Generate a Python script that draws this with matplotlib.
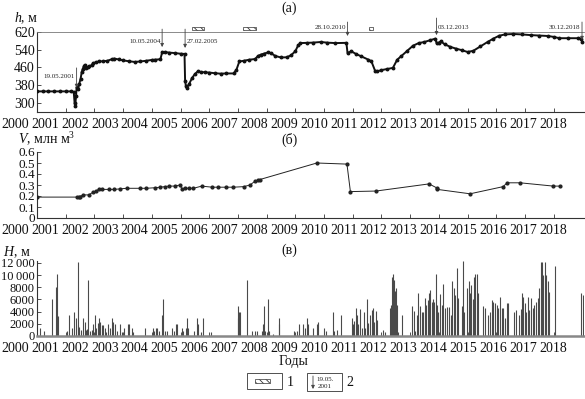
import matplotlib
matplotlib.use('Agg')
import matplotlib.pyplot as plt
from matplotlib.patches import Rectangle

plt.rcParams['font.family'] = ['Liberation Serif', 'DejaVu Serif']
plt.rcParams['mathtext.fontset'] = 'custom'
plt.rcParams['mathtext.rm'] = 'Liberation Serif'
plt.rcParams['mathtext.it'] = 'Liberation Serif:italic'
plt.rcParams['hatch.linewidth'] = 0.6

# ---------------- data ----------------
years = list(range(2000, 2019))
year_labels = [str(y) for y in years]

h_t = [2000.0, 2000.2, 2000.4, 2000.6, 2000.8, 2001.0, 2001.2, 2001.28, 2001.31, 2001.33,
       2001.36, 2001.38, 2001.42, 2001.47, 2001.52, 2001.56, 2001.6, 2001.64, 2001.67, 2001.72,
       2001.76, 2001.82, 2001.9, 2001.96, 2002.05, 2002.15, 2002.3, 2002.45, 2002.6, 2002.7,
       2002.85, 2003.0, 2003.2, 2003.4, 2003.6, 2003.8, 2004.0, 2004.1, 2004.3, 2004.36,
       2004.45, 2004.6, 2004.8, 2005.0, 2005.14, 2005.16, 2005.19, 2005.22, 2005.3, 2005.4,
       2005.5, 2005.6, 2005.7, 2005.85, 2006.0, 2006.2, 2006.4, 2006.6, 2006.85, 2006.95,
       2007.05, 2007.2, 2007.4, 2007.6, 2007.7, 2007.8, 2007.9, 2008.05, 2008.15, 2008.3,
       2008.5, 2008.7, 2008.85, 2009.0, 2009.1, 2009.18, 2009.4, 2009.6, 2009.9, 2010.1,
       2010.4, 2010.78, 2010.82, 2010.95, 2011.1, 2011.3, 2011.55, 2011.65, 2011.78, 2011.85,
       2012.0, 2012.2, 2012.4, 2012.55, 2012.7, 2012.9, 2013.1, 2013.3, 2013.5, 2013.7,
       2013.88, 2013.92, 2014.0, 2014.07, 2014.2, 2014.4, 2014.6, 2014.8, 2015.0, 2015.2,
       2015.45, 2015.7, 2015.9, 2016.1, 2016.3, 2016.6, 2016.9, 2017.2, 2017.5, 2017.8,
       2018.0, 2018.2, 2018.5, 2018.85, 2018.97, 2019.0]
h_v = [352, 352, 352, 352, 352, 352, 352, 350, 300, 285,
       330, 370, 362, 385, 410, 440, 455, 468, 472, 458,
       462, 465, 470, 480, 483, 487, 488, 490, 497, 500,
       496, 492, 488, 485, 487, 490, 494, 495, 497, 528,
       530, 527, 525, 522, 521, 400, 375, 368, 385, 412,
       430, 442, 440, 438, 437, 434, 432, 433, 433, 450,
       487, 490, 495, 498, 512, 518, 522, 528, 525, 512,
       505, 506, 515, 533, 560, 570, 571, 572, 575, 572,
       570, 571, 525, 533, 522, 510, 495, 488, 445, 442,
       448, 453, 458, 495, 512, 535, 558, 570, 575, 583,
       590, 570, 572, 578, 565, 553, 545, 538, 530, 535,
       555, 575, 590, 603, 609, 611, 609, 606, 604, 602,
       598, 592, 592, 592, 590, 575]

V_t = [2000.0, 2001.38, 2001.45, 2001.5, 2001.6, 2001.8, 2001.96, 2002.05, 2002.15, 2002.25,
       2002.5, 2002.7, 2002.9, 2003.12, 2003.6, 2003.8, 2004.1, 2004.3, 2004.45, 2004.6,
       2004.8, 2004.98, 2005.06, 2005.15, 2005.3, 2005.45, 2005.74, 2006.1, 2006.3, 2006.6,
       2006.84, 2007.2, 2007.42, 2007.6, 2007.7, 2007.77, 2009.75, 2010.8, 2010.92, 2011.81,
       2013.66, 2013.92, 2013.95, 2015.09, 2016.24, 2016.38, 2016.83, 2017.99, 2018.23]
V_v = [0.19, 0.19, 0.19, 0.195, 0.21, 0.21, 0.235, 0.245, 0.26, 0.26,
       0.26, 0.26, 0.265, 0.27, 0.27, 0.27, 0.275, 0.28, 0.285, 0.29,
       0.29, 0.30, 0.26, 0.27, 0.27, 0.27, 0.29, 0.28, 0.28, 0.28,
       0.28, 0.285, 0.30, 0.335, 0.345, 0.35, 0.50, 0.49, 0.24, 0.245,
       0.31, 0.275, 0.26, 0.22, 0.285, 0.32, 0.32, 0.29, 0.29]

H_t = [2000.10, 2000.24, 2000.53, 2000.67, 2000.69, 2000.74, 2001.06, 2001.13, 2001.22, 2001.30,
       2001.37, 2001.42, 2001.43, 2001.48, 2001.53, 2001.59, 2001.67, 2001.71, 2001.74, 2001.77,
       2001.85, 2001.90, 2001.96, 2002.02, 2002.07, 2002.11, 2002.16, 2002.21, 2002.25, 2002.31,
       2002.37, 2002.40, 2002.46, 2002.54, 2002.60, 2002.66, 2002.72, 2002.78, 2002.89, 2002.97,
       2003.04, 2003.16, 2003.22, 2003.32, 2003.36, 2003.76, 2004.05, 2004.07, 2004.13, 2004.18,
       2004.25, 2004.34, 2004.40, 2004.46, 2004.54, 2004.71, 2004.77, 2004.84, 2004.87, 2005.04,
       2005.08, 2005.18, 2005.21, 2005.26, 2005.48, 2005.56, 2005.60, 2005.70, 2005.77, 2006.05,
       2006.99, 2007.01, 2007.05, 2007.08, 2007.31, 2007.49, 2007.58, 2007.68, 2007.83, 2007.86,
       2007.91, 2007.94, 2008.04, 2008.07, 2008.23, 2008.42, 2008.44, 2008.97, 2009.06, 2009.12,
       2009.28, 2009.33, 2009.40, 2009.45, 2009.63, 2009.74, 2009.80, 2010.01, 2010.06, 2010.32,
       2010.36, 2010.44, 2010.58, 2010.96, 2011.01, 2011.06, 2011.10, 2011.15, 2011.20, 2011.25,
       2011.31, 2011.38, 2011.43, 2011.49, 2011.54, 2011.61, 2011.66, 2011.71, 2011.75, 2011.80,
       2011.85, 2012.04, 2012.13, 2012.30, 2012.33, 2012.38, 2012.41, 2012.45, 2012.48, 2012.52,
       2012.55, 2012.59, 2012.73, 2013.08, 2013.12, 2013.17, 2013.25, 2013.29, 2013.34, 2013.40,
       2013.46, 2013.52, 2013.56, 2013.61, 2013.66, 2013.70, 2013.75, 2013.80, 2013.84, 2013.89,
       2013.94, 2013.98, 2014.03, 2014.10, 2014.14, 2014.22, 2014.28, 2014.36, 2014.41, 2014.47,
       2014.53, 2014.58, 2014.62, 2014.67, 2014.80, 2014.83, 2014.88, 2014.99, 2015.04, 2015.09,
       2015.13, 2015.18, 2015.23, 2015.27, 2015.32, 2015.37, 2015.55, 2015.62, 2015.73, 2015.78,
       2015.84, 2015.90, 2015.96, 2016.02, 2016.07, 2016.13, 2016.19, 2016.24, 2016.30, 2016.37,
       2016.42, 2016.62, 2016.69, 2016.78, 2016.85, 2016.90, 2016.94, 2017.00, 2017.03, 2017.10,
       2017.15, 2017.21, 2017.27, 2017.32, 2017.38, 2017.44, 2017.49, 2017.55, 2017.60, 2017.64,
       2017.69, 2017.74, 2017.80, 2017.85, 2018.04, 2018.94, 2019.01]
H_v = [1370, 820, 6080, 8100, 10140, 3340, 820, 3450, 1370, 3890,
       2900, 12200, 1800, 1530, 990, 2900, 2360, 990, 1150, 9200,
       820, 990, 1920, 3450, 1260, 2080, 2900, 2360, 1810, 1810,
       1260, 710, 1920, 1370, 2900, 2360, 1920, 820, 1920, 710,
       1370, 1920, 1920, 1370, 600, 1370, 1370, 820, 1370, 1370,
       820, 3450, 6030, 820, 820, 1370, 820, 1920, 1920, 1370,
       820, 1370, 2900, 1370, 820, 2900, 1920, 600, 2900, 710,
       2900, 4990, 4000, 4000, 9200, 820, 820, 820, 820, 1920,
       4990, 820, 6080, 820, 380, 1920, 2900, 820, 820, 1920,
       1920, 1370, 2900, 1920, 1370, 1920, 2360, 1370, 820, 4000,
       820, 990, 3450, 2900, 1920, 2470, 4550, 3450, 1920, 4440,
       1370, 3890, 1260, 6080, 2080, 3450, 4270, 4550, 2360, 4110,
       2630, 990, 600, 4550, 5100, 9750, 10140, 9200, 7400, 7840,
       5100, 710, 3450, 4990, 4110, 820, 3450, 7010, 4990, 3890,
       3890, 6190, 5100, 5920, 7010, 7560, 5640, 6080, 5640, 10140,
       5100, 4000, 6850, 5100, 8490, 4550, 4820, 4820, 3450, 9040,
       7840, 6740, 11120, 6190, 4990, 12220, 4000, 7950, 9040, 7010,
       8380, 6080, 9750, 10140, 10140, 7010, 4990, 4550, 3450, 4000,
       5920, 5640, 5370, 5100, 4550, 6470, 4660, 4550, 2900, 5370,
       5370, 4000, 4270, 3450, 4440, 7010, 6470, 5370, 4000, 6470,
       4270, 6190, 4550, 5100, 5640, 6190, 7840, 12110, 12110, 10030,
       12110, 10030, 9040, 7290, 11560, 7010, 6740]

event_labels = ['19.05.2001', '10.05.2004', '27.02.2005', '28.10.2010', '03.12.2013', '30.12.2018']
event_t = [2001.38, 2004.36, 2005.16, 2010.82, 2013.92, 2018.99]
hatch_start = [2005.40, 2007.18, 2011.57]
hatch_end = [2005.82, 2007.63, 2011.71]

h_ticks = [300, 380, 460, 540, 620]
h_ticklabels = ['300', '380', '460', '540', '620']
V_ticks = [0, 0.1, 0.2, 0.3, 0.4, 0.5, 0.6]
V_ticklabels = ['0', '0.1', '0.2', '0.3', '0.4', '0.5', '0.6']
H_ticks = [0, 2000, 4000, 6000, 8000, 10000, 12000]
H_ticklabels = ['0', '2000', '4000', '6000', '8000', '10\u2009000', '12\u2009000']

# ---------------- layout ----------------
W, Hpx = 585, 399
fig = plt.figure(figsize=(W / 100, Hpx / 100), dpi=100)


def px_axes(x0, ytop, x1, ybot):
    return fig.add_axes([x0 / W, 1 - ybot / Hpx, (x1 - x0) / W, (ybot - ytop) / Hpx])


XMAX = 2000 + (584 - 37) / 28.7
ax1 = px_axes(37, 32, 584, 112)
ax2 = px_axes(37, 152, 584, 218)
ax3 = px_axes(37, 261, 584, 336)

TXT = '#111111'
for ax in (ax1, ax2, ax3):
    ax.set_xlim(2000, XMAX)
    ax.spines['right'].set_visible(False)
    ax.spines['left'].set_linewidth(0.8)
    ax.spines['bottom'].set_linewidth(0.8)
    ax.spines['left'].set_color('#333333')
    ax.spines['bottom'].set_color('#333333')
    ax.set_xticks(years)
    ax.tick_params(axis='both', direction='in', length=3, width=0.6, colors='#333333',
                   labelsize=10, labelcolor=TXT, pad=1.5)
    ax.tick_params(axis='x', labelbottom=False)
    ax.patch.set_alpha(0)
    # year labels, spread a little wider than the tick spacing as in the original
    for k, lab in enumerate(year_labels):
        pos = 2000 + (15 + 29.9 * k - 37) / 28.7
        ax.annotate(lab, xy=(pos, 0), xycoords=ax.get_xaxis_transform(),
                    xytext=(0, -4), textcoords='offset points', ha='center', va='top',
                    fontsize=10, color=TXT, annotation_clip=False)

# ----- panel (a)
ax1.set_ylim(259, 620)
ax1.spines['top'].set_color('#777777')
ax1.spines['top'].set_linewidth(0.6)
ax1.set_yticks(h_ticks)
ax1.set_yticklabels(h_ticklabels)
ax1.plot(h_t, h_v, color='#111111', lw=1.4, marker='o', ms=1.8, zorder=3)

arrow_top = [458, 633, 633, 665, 683, 665]
arrow_bot = [368, 552, 548, 602, 606, 584]
text_v = [421, 575, 575, 642, 642, 642]
text_side = ['right', 'right', 'left', 'right', 'left', 'right']
for lab, t, a0, a1, tv, side in zip(event_labels, event_t, arrow_top, arrow_bot, text_v, text_side):
    ax1.annotate('', xy=(t, a1), xytext=(t, a0),
                 arrowprops=dict(arrowstyle='-|>', lw=0.6, color='#444444',
                                 mutation_scale=5, shrinkA=0, shrinkB=0),
                 annotation_clip=False)
    dx = -0.05 if side == 'right' else 0.06
    ax1.text(t + dx, tv, lab, ha=side, va='center', fontsize=5, color='#222222', clip_on=False)

for s, e in zip(hatch_start, hatch_end):
    ax1.add_patch(Rectangle((s, 627), e - s, 14, facecolor='white', edgecolor='#333333',
                            lw=0.5, hatch='\\\\\\\\\\', clip_on=False))

# ----- panel (b)
ax2.set_ylim(0, 0.6)
ax2.spines['top'].set_visible(False)
ax2.set_yticks(V_ticks)
ax2.set_yticklabels(V_ticklabels)
ax2.tick_params(axis='y', labelsize=9.5)
ax2.plot(V_t, V_v, color='#222222', lw=0.7, marker='o', ms=2.0, zorder=3)

# ----- panel (c)
ax3.set_ylim(0, 12300)
ax3.spines['top'].set_visible(False)
ax3.spines['bottom'].set_color('#888888')
ax3.spines['bottom'].set_linewidth(1.8)
ax3.set_yticks(H_ticks)
ax3.set_yticklabels(H_ticklabels)
ax3.tick_params(axis='y', labelsize=9)
ax3.vlines(H_t, 0, H_v, color='#4a4a4a', lw=0.8)

# ----- overlay for titles / legend
axo = fig.add_axes([0, 0, 1, 1])
axo.set_xlim(0, W)
axo.set_ylim(Hpx, 0)
axo.set_axis_off()
axo.patch.set_alpha(0)

axo.text(289, 8, '(а)', ha='center', va='center', fontsize=10, color=TXT)
axo.text(289, 140, '(б)', ha='center', va='center', fontsize=10, color=TXT)
axo.text(289, 250, '(в)', ha='center', va='center', fontsize=10, color=TXT)
axo.text(14, 18, '$h$, м', ha='left', va='center', fontsize=10, color=TXT)
axo.text(18, 139, '$V$, млн м$^3$', ha='left', va='center', fontsize=10, color=TXT)
axo.text(3, 252, '$H$, м', ha='left', va='center', fontsize=10, color=TXT)
axo.text(293, 362, 'Годы', ha='center', va='center', fontsize=10, color=TXT)

# legend
axo.add_patch(Rectangle((247, 373), 35, 16, facecolor='white', edgecolor='#333333', lw=0.6))
axo.add_patch(Rectangle((255, 379), 15, 4, facecolor='white', edgecolor='#333333', lw=0.5,
                        hatch='\\\\\\\\\\'))
axo.text(290, 382, '1', ha='center', va='center', fontsize=10, color=TXT)
axo.add_patch(Rectangle((307, 373), 35, 18, facecolor='white', edgecolor='#333333', lw=0.6))
axo.annotate('', xy=(313, 389), xytext=(313, 376),
             arrowprops=dict(arrowstyle='-|>', lw=0.6, color='#444444', mutation_scale=5,
                             shrinkA=0, shrinkB=0))
axo.text(325, 379.5, '19.05.', ha='center', va='center', fontsize=5, color='#222222')
axo.text(325, 386, '2001', ha='center', va='center', fontsize=5, color='#222222')
axo.text(350, 382, '2', ha='center', va='center', fontsize=10, color=TXT)

fig.savefig('out.png', dpi=100)
